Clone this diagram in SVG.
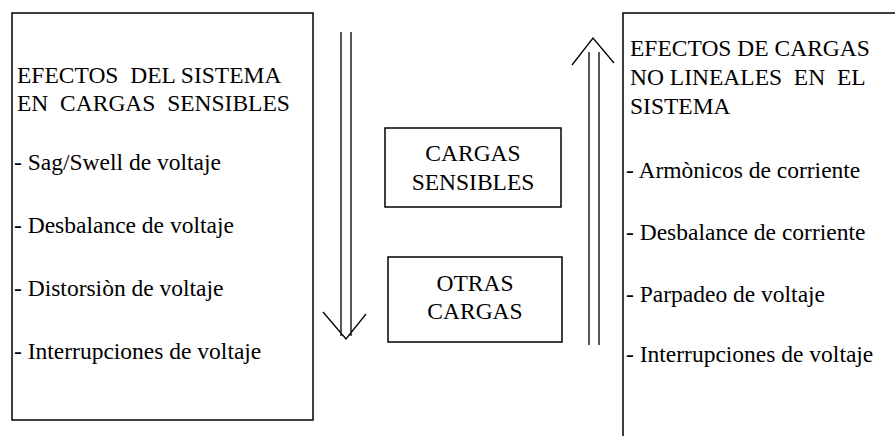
<svg xmlns="http://www.w3.org/2000/svg" width="895" height="436" viewBox="0 0 895 436">
<style>
.box{fill:#fff;stroke:#000;stroke-width:1.5}
.ln{fill:none;stroke:#000;stroke-width:1.3}
.t{font-family:'Liberation Serif','DejaVu Serif',serif;font-size:23.5px;fill:#000}
.c{text-anchor:middle}
</style>
<rect width="895" height="436" fill="#fff"/>
<g id="left-box" class="t" font-family="Liberation Serif, serif">
<rect class="box" x="12" y="13" width="301" height="407"/>
<text x="17" y="83" xml:space="preserve">EFECTOS  DEL SISTEMA</text>
<text x="17" y="111" xml:space="preserve">EN  CARGAS  SENSIBLES</text>
<text x="14" y="170">- Sag/Swell de voltaje</text>
<text x="14" y="233">- Desbalance de voltaje</text>
<text x="14" y="296">- Distorsiòn de voltaje</text>
<text x="14" y="359">- Interrupciones de voltaje</text>
</g>
<g id="cargas-sensibles" class="t" font-family="Liberation Serif, serif">
<rect class="box" x="385" y="128" width="176" height="79"/>
<text class="c" x="473" y="161">CARGAS</text>
<text class="c" x="473" y="190">SENSIBLES</text>
</g>
<g id="otras-cargas" class="t" font-family="Liberation Serif, serif">
<rect class="box" x="388" y="257" width="174" height="85"/>
<text class="c" x="475" y="291">OTRAS</text>
<text class="c" x="475" y="319">CARGAS</text>
</g>
<g id="right-box" class="t" font-family="Liberation Serif, serif">
<path class="box" d="M896,13 H623 V437"/>
<text x="630" y="56">EFECTOS DE CARGAS</text>
<text x="630" y="85" xml:space="preserve">NO LINEALES  EN  EL</text>
<text x="630" y="114">SISTEMA</text>
<text x="626" y="178">- Armònicos de corriente</text>
<text x="626" y="240">- Desbalance de corriente</text>
<text x="626" y="302">- Parpadeo de voltaje</text>
<text x="626" y="362">- Interrupciones de voltaje</text>
</g>
<g id="connectors">
<path class="ln" d="M341,32 V336 M351,32 V336 M323,312 L346,339 L366,314"/>
<path class="ln" d="M589,345 V52 M599,345 V52 M572,65 L593,38 L614,63"/>
</g>
</svg>
